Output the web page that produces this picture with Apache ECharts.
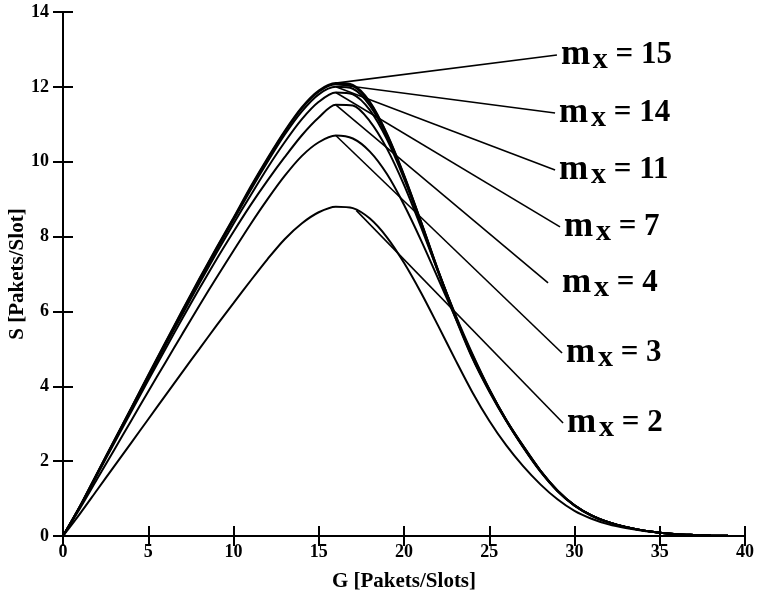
<!DOCTYPE html>
<html><head><meta charset="utf-8">
<script src="https://cdn.jsdelivr.net/npm/echarts@6/dist/echarts.min.js"></script>
<style>html,body{margin:0;padding:0;background:#fff}#c{width:757px;height:605px}</style>
</head><body><div id="c"></div>
<script>
const G = [0,1,2,3,4,5,6,7,8,9,10,11,12,13,14,15,16,17,18,19,20,21,22,23,24,25,26,27,28,29,30,31,32,33,34,35,36,37,38,39,40];
const m15 = [0,0.8,1.68,2.55,3.42,4.3,5.17,6.03,6.88,7.7,8.5,9.33,10.1,10.82,11.45,11.9,12.1,12.05,11.6,10.75,9.65,8.4,7.1,5.9,4.8,3.9,3.1,2.4,1.75,1.22,0.82,0.55,0.37,0.24,0.15,0.09,0.05,0.03,0.015,0.006,0];
const m14 = [0,0.8,1.67,2.54,3.41,4.28,5.15,6.01,6.86,7.68,8.48,9.3,10.07,10.79,11.42,11.87,12.07,12.02,11.57,10.73,9.63,8.39,7.1,5.9,4.8,3.9,3.1,2.4,1.75,1.22,0.82,0.55,0.37,0.24,0.15,0.09,0.05,0.03,0.015,0.006,0];
const m11 = [0,0.79,1.66,2.53,3.4,4.26,5.13,5.98,6.82,7.64,8.44,9.24,10.0,10.72,11.34,11.8,12.0,11.95,11.5,10.68,9.6,8.37,7.08,5.88,4.78,3.88,3.08,2.38,1.74,1.21,0.82,0.55,0.37,0.24,0.15,0.09,0.05,0.03,0.015,0.006,0];
const m7 = [0,0.79,1.65,2.51,3.37,4.23,5.08,5.92,6.75,7.56,8.34,9.1,9.84,10.52,11.13,11.6,11.85,11.8,11.38,10.6,9.55,8.33,7.05,5.85,4.76,3.86,3.07,2.37,1.73,1.2,0.81,0.54,0.36,0.24,0.15,0.09,0.05,0.03,0.015,0.006,0];
const m4 = [0,0.78,1.63,2.48,3.32,4.16,4.99,5.81,6.61,7.39,8.13,8.84,9.5,10.12,10.7,11.18,11.52,11.5,11.08,10.35,9.38,8.25,7.07,5.93,4.88,3.93,3.1,2.38,1.74,1.21,0.82,0.55,0.37,0.24,0.15,0.09,0.05,0.03,0.015,0.006,0];
const m3 = [0,0.74,1.52,2.3,3.08,3.86,4.63,5.4,6.16,6.9,7.62,8.33,9.0,9.62,10.15,10.52,10.7,10.62,10.27,9.67,8.85,7.9,6.88,5.85,4.85,3.92,3.08,2.36,1.72,1.2,0.81,0.54,0.36,0.24,0.15,0.09,0.05,0.03,0.015,0.006,0];
const m2 = [0,0.6,1.23,1.86,2.49,3.12,3.75,4.38,5.0,5.62,6.22,6.82,7.4,7.93,8.35,8.65,8.8,8.76,8.48,7.98,7.3,6.5,5.62,4.72,3.85,3.08,2.42,1.86,1.38,0.98,0.67,0.46,0.31,0.21,0.14,0.09,0.05,0.03,0.015,0.006,0];

const annNames = ['15','14','11','7','4','3','2'];
const annStartG = [16,16,16,16,16,16,17.2];
const annStartS = [12.1,12.07,12.0,11.85,11.52,10.7,8.7];
const annEndG = [28.97,28.86,28.86,29.15,28.45,29.27,29.33];
const annEndS = [12.85,11.30,9.78,8.26,6.76,4.89,3.02];

const xTicks = [0,5,10,15,20,25,30,35,40];
const yTicks = [0,2,4,6,8,10,12,14];

const FONT = 'Liberation Serif';
const curves = [m15,m14,m11,m7,m4,m3,m2];
const series = [];
curves.forEach(arr => {
  series.push({type:'line', data: G.map((g,i)=>[g,arr[i]]), smooth:0.3, symbol:'none',
    lineStyle:{color:'#000', width:2}, silent:true, z:3});
});
annNames.forEach((n,i)=>{
  series.push({type:'line', symbol:'none', silent:true, z:4,
    lineStyle:{color:'#000', width:1.6},
    data:[[annStartG[i],annStartS[i]],[annEndG[i],annEndS[i]]],
    endLabel:{show:true, distance:(n==='4'?14:4),
        formatter:'{m|m}{s| }{x|x}{e| = '+n+'}',
        rich:{
          m:{fontFamily:FONT,fontWeight:'bold',fontSize:35,color:'#000',verticalAlign:'middle',lineHeight:40},
          s:{fontFamily:FONT,fontSize:11,lineHeight:20},
          x:{fontFamily:FONT,fontWeight:'bold',fontSize:30,color:'#000',verticalAlign:'bottom',lineHeight:22},
          e:{fontFamily:FONT,fontWeight:'bold',fontSize:31,color:'#000',verticalAlign:'middle',lineHeight:30}
        }}
  });
});

const axisCommon = {
  axisLine:{show:true,lineStyle:{color:'#000',width:2}},
  axisTick:{show:true,inside:true,length:10,lineStyle:{color:'#000',width:2}},
  splitLine:{show:false},
  axisLabel:{color:'#000',fontFamily:FONT,fontWeight:'bold',fontSize:18}
};
const chart = echarts.init(document.getElementById('c'));
chart.setOption({
  animation:false,
  backgroundColor:'#fff',
  grid:{left:63,right:12,top:12,bottom:69,containLabel:false,outerBoundsMode:'none'},
  xAxis:[
    Object.assign({}, axisCommon, {type:'value',min:0,max:40,interval:5,position:'bottom',
      name:'G [Pakets/Slots]',nameLocation:'middle',nameGap:35,nameMoveOverlap:false,
      nameTextStyle:{color:'#000',fontFamily:FONT,fontWeight:'bold',fontSize:21},
      axisLabel:Object.assign({},axisCommon.axisLabel,{margin:7,formatter:v=>xTicks.includes(v)?String(v):''})}),
    Object.assign({}, axisCommon, {type:'value',min:0,max:40,interval:5,position:'top',axisLabel:{show:false}})
  ],
  yAxis:[
    Object.assign({}, axisCommon, {type:'value',min:0,max:14,interval:2,position:'left',
      name:'S [Pakets/Slot]',nameLocation:'middle',nameGap:35,nameMoveOverlap:false,
      nameTextStyle:{color:'#000',fontFamily:FONT,fontWeight:'bold',fontSize:21},
      axisLabel:Object.assign({},axisCommon.axisLabel,{margin:14,formatter:v=>yTicks.includes(v)?String(v):''})}),
    Object.assign({}, axisCommon, {type:'value',min:0,max:14,interval:2,position:'right',axisLabel:{show:false}})
  ],
  series: series
});
</script></body></html>
